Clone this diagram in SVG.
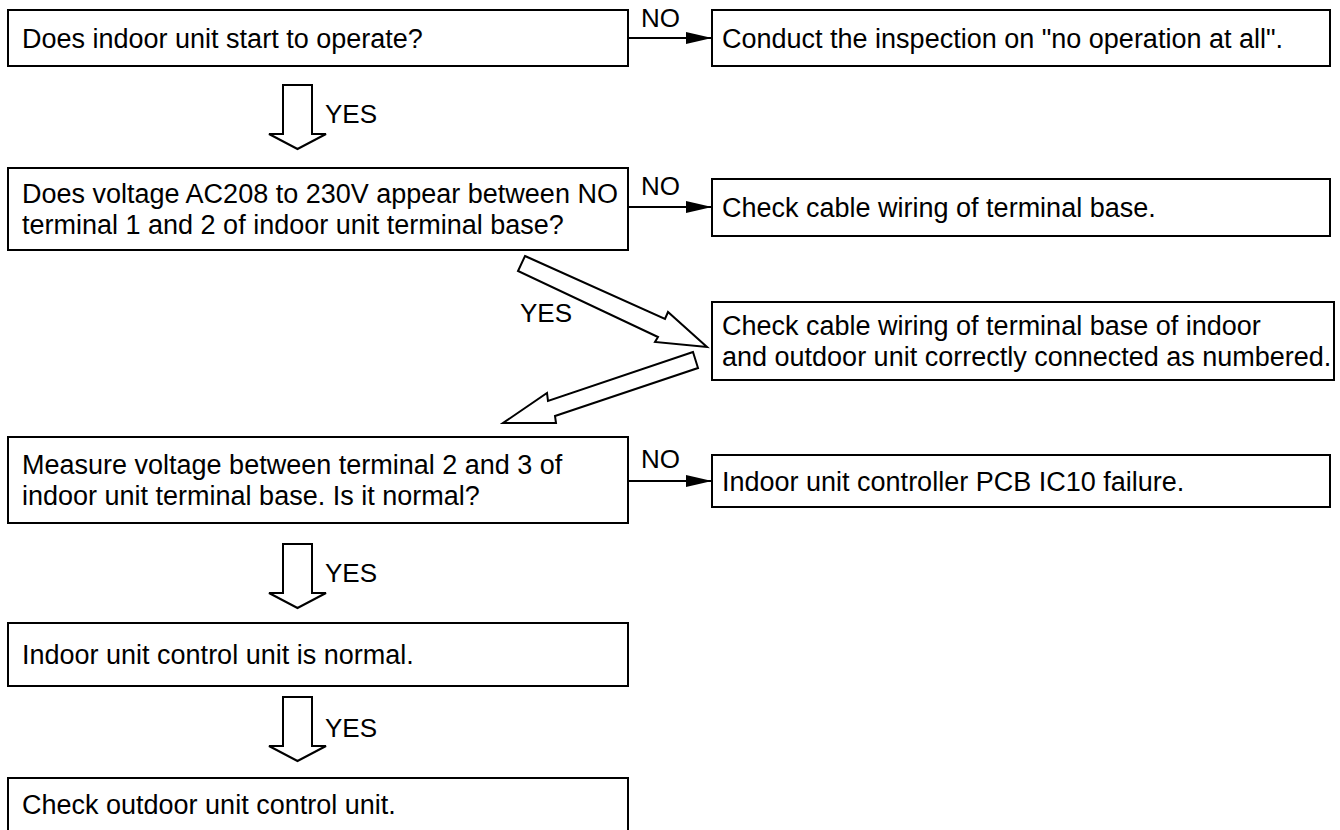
<svg xmlns="http://www.w3.org/2000/svg" width="1340" height="830" viewBox="0 0 1340 830">
<defs>
<style>
.box{fill:#fff;stroke:#000;stroke-width:2}
.t{font-family:"Liberation Sans",Arial,sans-serif;font-size:27px;fill:#000}
.l{font-family:"Liberation Sans",Arial,sans-serif;font-size:26px;fill:#000}
.ln{stroke:#000;stroke-width:2;fill:none}
.fat{fill:#fff;stroke:#000;stroke-width:2;stroke-linejoin:miter}
</style>
<marker id="ah" viewBox="0 0 26 12" refX="26" refY="6" markerWidth="26" markerHeight="12" markerUnits="userSpaceOnUse" orient="auto">
<path d="M0,0 L26,6 L0,12 Z" fill="#000"/>
</marker>
</defs>
<rect width="1340" height="830" fill="#fff"/>
<g id="n1"><rect class="box" x="8" y="10" width="620" height="56"/><text class="t" x="22" y="48">Does indoor unit start to operate?</text></g>
<g id="n2"><rect class="box" x="712" y="10" width="618" height="56"/><text class="t" x="722" y="48">Conduct the inspection on "no operation at all".</text></g>
<g id="n3"><rect class="box" x="8" y="168" width="620" height="82"/><text class="t" x="22" y="203">Does voltage AC208 to 230V appear between NO</text><text class="t" x="22" y="234">terminal 1 and 2 of indoor unit terminal base?</text></g>
<g id="n4"><rect class="box" x="712" y="179" width="618" height="57"/><text class="t" x="722" y="217">Check cable wiring of terminal base.</text></g>
<g id="n5"><rect class="box" x="712" y="302" width="622" height="78"/><text class="t" x="722" y="335">Check cable wiring of terminal base of indoor</text><text class="t" x="722" y="366">and outdoor unit correctly connected as numbered.</text></g>
<g id="n6"><rect class="box" x="8" y="437" width="620" height="86"/><text class="t" x="22" y="474">Measure voltage between terminal 2 and 3 of</text><text class="t" x="22" y="505">indoor unit terminal base. Is it normal?</text></g>
<g id="n7"><rect class="box" x="712" y="455" width="618" height="52"/><text class="t" x="722" y="491">Indoor unit controller PCB IC10 failure.</text></g>
<g id="n8"><rect class="box" x="8" y="623" width="620" height="63"/><text class="t" x="22" y="664">Indoor unit control unit is normal.</text></g>
<g id="n9"><path class="ln" d="M8,840 L8,778 L628,778 L628,840"/><text class="t" x="22" y="814">Check outdoor unit control unit.</text></g>
<g id="connectors">
<line class="ln" x1="628" y1="38" x2="712" y2="38" marker-end="url(#ah)"/>
<text class="l" x="641" y="27">NO</text>
<line class="ln" x1="628" y1="207" x2="712" y2="207" marker-end="url(#ah)"/>
<text class="l" x="641" y="195">NO</text>
<line class="ln" x1="628" y1="481" x2="712" y2="481" marker-end="url(#ah)"/>
<text class="l" x="641" y="468">NO</text>
<polygon class="fat" points="283,85 312,85 312,134 326,134 297.5,149 269,134 283,134"/>
<text class="l" x="325" y="123">YES</text>
<polygon class="fat" points="525,256 665,319 668,312 707,347 655,342 658,337 518,271"/>
<text class="l" x="520" y="322">YES</text>
<polygon class="fat" points="693,352 548,401 547,393 503,423 556,423 555,416 698,368"/>
<polygon class="fat" points="283,544 312,544 312,593 326,593 297.5,608 269,593 283,593"/>
<text class="l" x="325" y="582">YES</text>
<polygon class="fat" points="283,697 312,697 312,746 326,746 297.5,761 269,746 283,746"/>
<text class="l" x="325" y="737">YES</text>
</g>
</svg>
